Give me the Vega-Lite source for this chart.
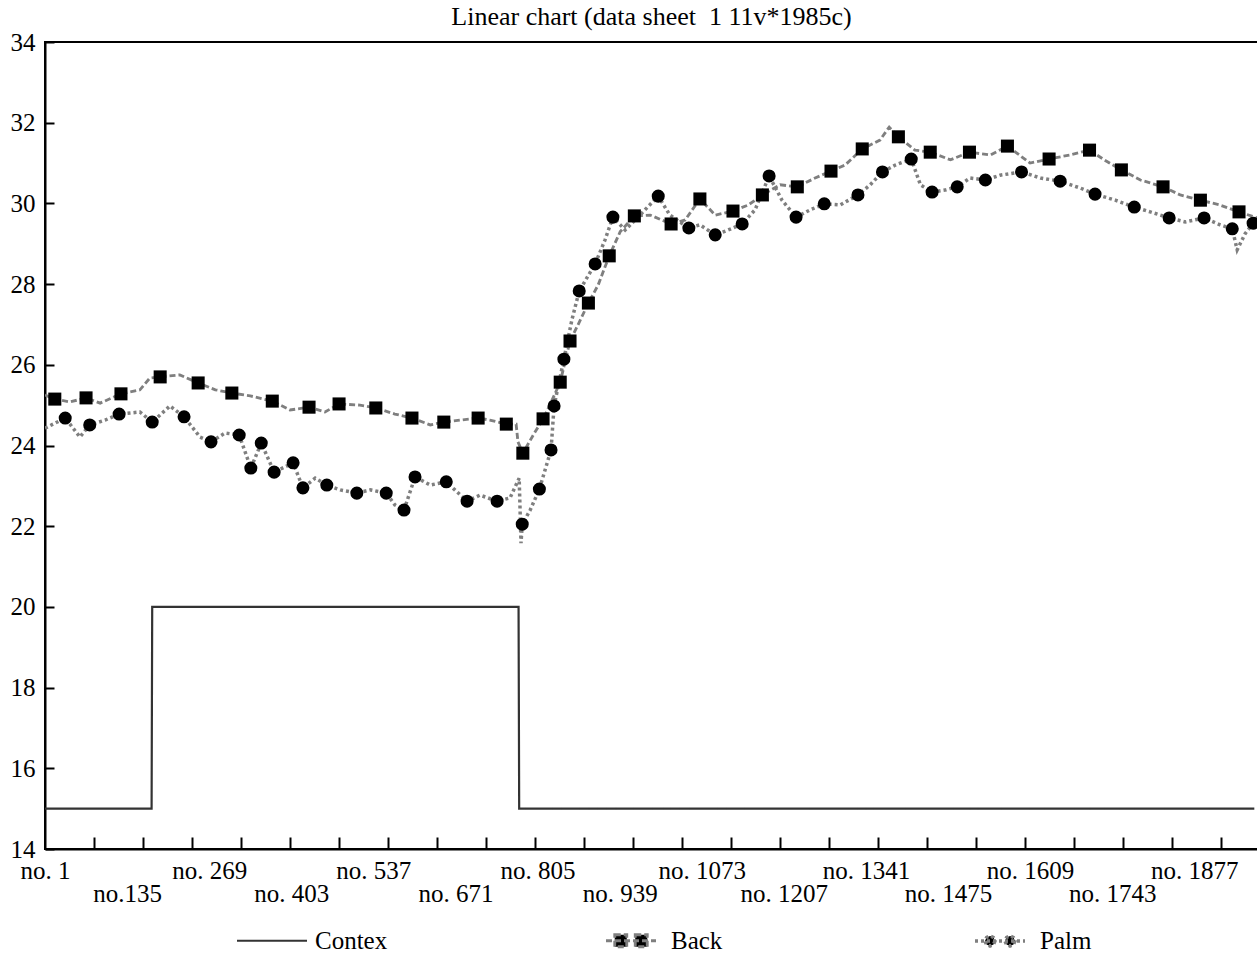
{
  "$schema": "https://vega.github.io/schema/vega-lite/v6.json",
  "width": 1213,
  "height": 807,
  "autosize": "none",
  "padding": {"left": 45, "top": 42, "right": 0, "bottom": 105},
  "background": "white",
  "config": {"view": {"stroke": "black", "strokeWidth": 2}, "font": "Liberation Serif"},
  "title": {"text": "Linear chart (data sheet\u00a0 1 11v*1985c)", "font": "Liberation Serif", "fontSize": 26, "fontWeight": "normal", "color": "black", "anchor": "middle", "frame": "group", "offset": 0},
  "data": {"values": [
    {"s":"Contex","i":1,"v":15,"m":0},{"s":"Contex","i":175,"v":15,"m":0},{"s":"Contex","i":176,"v":20,"m":0},{"s":"Contex","i":774,"v":20,"m":0},{"s":"Contex","i":775,"v":15,"m":0},{"s":"Contex","i":1975,"v":15,"m":0},
    {"s":"Back","i":1,"v":25.25,"m":0},{"s":"Back","i":17,"v":25.15,"m":1},{"s":"Back","i":42,"v":25.08,"m":0},{"s":"Back","i":68,"v":25.18,"m":1},{"s":"Back","i":91,"v":25.05,"m":0},{"s":"Back","i":125,"v":25.28,"m":1},{"s":"Back","i":156,"v":25.38,"m":0},{"s":"Back","i":172,"v":25.67,"m":0},{"s":"Back","i":189,"v":25.70,"m":1},{"s":"Back","i":221,"v":25.75,"m":0},{"s":"Back","i":251,"v":25.55,"m":1},{"s":"Back","i":279,"v":25.38,"m":0},{"s":"Back","i":306,"v":25.30,"m":1},{"s":"Back","i":336,"v":25.23,"m":0},{"s":"Back","i":372,"v":25.10,"m":1},{"s":"Back","i":401,"v":24.88,"m":0},{"s":"Back","i":432,"v":24.95,"m":1},{"s":"Back","i":458,"v":24.83,"m":0},{"s":"Back","i":481,"v":25.03,"m":1},{"s":"Back","i":515,"v":25.00,"m":0},{"s":"Back","i":541,"v":24.93,"m":1},{"s":"Back","i":572,"v":24.78,"m":0},{"s":"Back","i":600,"v":24.68,"m":1},{"s":"Back","i":630,"v":24.51,"m":0},{"s":"Back","i":652,"v":24.58,"m":1},{"s":"Back","i":679,"v":24.63,"m":0},{"s":"Back","i":708,"v":24.68,"m":1},{"s":"Back","i":727,"v":24.63,"m":0},{"s":"Back","i":754,"v":24.53,"m":1},{"s":"Back","i":770,"v":24.53,"m":0},{"s":"Back","i":773,"v":24.09,"m":0},{"s":"Back","i":781,"v":23.81,"m":1},{"s":"Back","i":798,"v":24.26,"m":0},{"s":"Back","i":814,"v":24.66,"m":1},{"s":"Back","i":825,"v":25.00,"m":0},{"s":"Back","i":842,"v":25.57,"m":1},{"s":"Back","i":858,"v":26.59,"m":1},{"s":"Back","i":871,"v":26.99,"m":0},{"s":"Back","i":888,"v":27.53,"m":1},{"s":"Back","i":904,"v":27.98,"m":0},{"s":"Back","i":922,"v":28.70,"m":1},{"s":"Back","i":940,"v":29.30,"m":0},{"s":"Back","i":963,"v":29.69,"m":1},{"s":"Back","i":989,"v":29.71,"m":0},{"s":"Back","i":1023,"v":29.49,"m":1},{"s":"Back","i":1046,"v":29.59,"m":0},{"s":"Back","i":1070,"v":30.11,"m":1},{"s":"Back","i":1095,"v":29.71,"m":0},{"s":"Back","i":1124,"v":29.81,"m":1},{"s":"Back","i":1149,"v":29.96,"m":0},{"s":"Back","i":1172,"v":30.21,"m":1},{"s":"Back","i":1201,"v":30.46,"m":0},{"s":"Back","i":1229,"v":30.41,"m":1},{"s":"Back","i":1258,"v":30.63,"m":0},{"s":"Back","i":1284,"v":30.80,"m":1},{"s":"Back","i":1307,"v":30.95,"m":0},{"s":"Back","i":1335,"v":31.35,"m":1},{"s":"Back","i":1364,"v":31.57,"m":0},{"s":"Back","i":1379,"v":31.89,"m":0},{"s":"Back","i":1394,"v":31.65,"m":1},{"s":"Back","i":1421,"v":31.32,"m":0},{"s":"Back","i":1446,"v":31.27,"m":1},{"s":"Back","i":1479,"v":31.08,"m":0},{"s":"Back","i":1510,"v":31.27,"m":1},{"s":"Back","i":1544,"v":31.20,"m":0},{"s":"Back","i":1572,"v":31.42,"m":1},{"s":"Back","i":1609,"v":31.00,"m":0},{"s":"Back","i":1640,"v":31.10,"m":1},{"s":"Back","i":1674,"v":31.20,"m":0},{"s":"Back","i":1706,"v":31.32,"m":1},{"s":"Back","i":1731,"v":31.07,"m":0},{"s":"Back","i":1758,"v":30.83,"m":1},{"s":"Back","i":1789,"v":30.58,"m":0},{"s":"Back","i":1826,"v":30.41,"m":1},{"s":"Back","i":1854,"v":30.21,"m":0},{"s":"Back","i":1887,"v":30.08,"m":1},{"s":"Back","i":1919,"v":29.96,"m":0},{"s":"Back","i":1950,"v":29.79,"m":1},{"s":"Back","i":1980,"v":29.64,"m":0},
    {"s":"Palm","i":1,"v":24.43,"m":0},{"s":"Palm","i":34,"v":24.68,"m":1},{"s":"Palm","i":58,"v":24.21,"m":0},{"s":"Palm","i":74,"v":24.51,"m":1},{"s":"Palm","i":99,"v":24.63,"m":0},{"s":"Palm","i":122,"v":24.78,"m":1},{"s":"Palm","i":156,"v":24.83,"m":0},{"s":"Palm","i":176,"v":24.58,"m":1},{"s":"Palm","i":205,"v":24.98,"m":0},{"s":"Palm","i":228,"v":24.71,"m":1},{"s":"Palm","i":254,"v":24.21,"m":0},{"s":"Palm","i":272,"v":24.09,"m":1},{"s":"Palm","i":295,"v":24.31,"m":0},{"s":"Palm","i":318,"v":24.26,"m":1},{"s":"Palm","i":337,"v":23.44,"m":1},{"s":"Palm","i":354,"v":24.06,"m":1},{"s":"Palm","i":375,"v":23.34,"m":1},{"s":"Palm","i":406,"v":23.57,"m":1},{"s":"Palm","i":422,"v":22.95,"m":1},{"s":"Palm","i":442,"v":23.19,"m":0},{"s":"Palm","i":461,"v":23.02,"m":1},{"s":"Palm","i":483,"v":22.90,"m":0},{"s":"Palm","i":510,"v":22.82,"m":1},{"s":"Palm","i":532,"v":22.90,"m":0},{"s":"Palm","i":558,"v":22.82,"m":1},{"s":"Palm","i":572,"v":22.53,"m":0},{"s":"Palm","i":587,"v":22.40,"m":1},{"s":"Palm","i":605,"v":23.22,"m":1},{"s":"Palm","i":630,"v":23.02,"m":0},{"s":"Palm","i":656,"v":23.10,"m":1},{"s":"Palm","i":670,"v":22.90,"m":0},{"s":"Palm","i":690,"v":22.62,"m":1},{"s":"Palm","i":711,"v":22.77,"m":0},{"s":"Palm","i":739,"v":22.62,"m":1},{"s":"Palm","i":760,"v":22.70,"m":0},{"s":"Palm","i":775,"v":23.19,"m":0},{"s":"Palm","i":778,"v":21.58,"m":0},{"s":"Palm","i":780,"v":22.05,"m":1},{"s":"Palm","i":793,"v":22.40,"m":0},{"s":"Palm","i":808,"v":22.92,"m":1},{"s":"Palm","i":827,"v":23.89,"m":1},{"s":"Palm","i":832,"v":24.98,"m":1},{"s":"Palm","i":848,"v":26.14,"m":1},{"s":"Palm","i":861,"v":27.11,"m":0},{"s":"Palm","i":873,"v":27.83,"m":1},{"s":"Palm","i":899,"v":28.50,"m":1},{"s":"Palm","i":915,"v":29.09,"m":0},{"s":"Palm","i":928,"v":29.66,"m":1},{"s":"Palm","i":948,"v":29.34,"m":0},{"s":"Palm","i":972,"v":29.71,"m":0},{"s":"Palm","i":1002,"v":30.18,"m":1},{"s":"Palm","i":1021,"v":29.71,"m":0},{"s":"Palm","i":1052,"v":29.39,"m":1},{"s":"Palm","i":1070,"v":29.47,"m":0},{"s":"Palm","i":1095,"v":29.22,"m":1},{"s":"Palm","i":1116,"v":29.34,"m":0},{"s":"Palm","i":1139,"v":29.49,"m":1},{"s":"Palm","i":1160,"v":29.84,"m":0},{"s":"Palm","i":1183,"v":30.68,"m":1},{"s":"Palm","i":1204,"v":30.08,"m":0},{"s":"Palm","i":1227,"v":29.66,"m":1},{"s":"Palm","i":1250,"v":29.84,"m":0},{"s":"Palm","i":1273,"v":29.99,"m":1},{"s":"Palm","i":1299,"v":29.96,"m":0},{"s":"Palm","i":1328,"v":30.21,"m":1},{"s":"Palm","i":1348,"v":30.46,"m":0},{"s":"Palm","i":1368,"v":30.78,"m":1},{"s":"Palm","i":1389,"v":30.95,"m":0},{"s":"Palm","i":1415,"v":31.10,"m":1},{"s":"Palm","i":1430,"v":30.46,"m":0},{"s":"Palm","i":1449,"v":30.28,"m":1},{"s":"Palm","i":1470,"v":30.33,"m":0},{"s":"Palm","i":1490,"v":30.41,"m":1},{"s":"Palm","i":1511,"v":30.63,"m":0},{"s":"Palm","i":1536,"v":30.58,"m":1},{"s":"Palm","i":1560,"v":30.70,"m":0},{"s":"Palm","i":1595,"v":30.78,"m":1},{"s":"Palm","i":1626,"v":30.63,"m":0},{"s":"Palm","i":1658,"v":30.55,"m":1},{"s":"Palm","i":1691,"v":30.38,"m":0},{"s":"Palm","i":1715,"v":30.23,"m":1},{"s":"Palm","i":1748,"v":30.08,"m":0},{"s":"Palm","i":1779,"v":29.91,"m":1},{"s":"Palm","i":1805,"v":29.79,"m":0},{"s":"Palm","i":1836,"v":29.64,"m":1},{"s":"Palm","i":1862,"v":29.54,"m":0},{"s":"Palm","i":1893,"v":29.64,"m":1},{"s":"Palm","i":1919,"v":29.47,"m":0},{"s":"Palm","i":1939,"v":29.37,"m":1},{"s":"Palm","i":1947,"v":28.85,"m":0},{"s":"Palm","i":1960,"v":29.25,"m":0},{"s":"Palm","i":1973,"v":29.51,"m":1},{"s":"Palm","i":1980,"v":29.47,"m":0}
  ]},
  "resolve": {"axis": {"x": "independent"}},
  "layer": [
    {
      "mark": {"type": "line", "clip": true},
      "encoding": {
        "x": {"field": "i", "type": "quantitative",
          "scale": {"domain": [1, 1981], "nice": false, "zero": false},
          "axis": {
            "orient": "bottom",
            "values": [1,135,269,403,537,671,805,939,1073,1207,1341,1475,1609,1743,1877],
            "title": null, "grid": false, "domain": false, "ticks": false, "tickSize": 0,
            "labelExpr": "datum.value === 135 ? 'no.135' : 'no. ' + datum.value",
            "labelPadding": {"condition": {"test": "((datum.value - 1) / 134) % 2 === 1", "value": 32}, "value": 9},
            "labelFont": "Liberation Serif", "labelFontSize": 25, "labelColor": "black",
            "labelOverlap": false, "labelFlush": false, "labelBound": false
          }
        },
        "y": {"field": "v", "type": "quantitative",
          "scale": {"domain": [14, 34], "nice": false, "zero": false},
          "axis": {
            "values": [14,16,18,20,22,24,26,28,30,32,34],
            "title": null, "grid": false,
            "domainColor": "black", "domainWidth": 2,
            "tickSize": -9, "tickColor": "black", "tickWidth": 2,
            "labelFont": "Liberation Serif", "labelFontSize": 25, "labelColor": "black",
            "labelPadding": 19, "labelOverlap": false, "labelFlush": false
          }
        },
        "color": {"field": "s", "type": "nominal",
          "scale": {"domain": ["Contex", "Back", "Palm"], "range": ["#333333", "#7f7f7f", "#7f7f7f"]},
          "legend": {
            "title": null, "orient": "none", "legendX": 190, "legendY": 872,
            "direction": "horizontal", "columns": 3, "gridAlign": "all", "columnPadding": 211, "padding": 0,
            "symbolSize": 2500, "symbolStrokeWidth": 3,
            "labelFont": "Liberation Serif", "labelFontSize": 25, "labelColor": "black", "labelOffset": 13,
            "encode": {
              "labels": {"update": {"dx": {"signal": "datum.value === 'Contex' ? 13 : 0"}}},
              "symbols": {"update": {
                "shape": {"signal": "datum.value === 'Contex' ? 'M-1,0H1.8' : datum.value === 'Back' ? 'M-1,0H1M-0.65,-0.24H-0.17V0.24H-0.65ZM0.17,-0.24H0.65V0.24H0.17Z' : 'M-1,0H1M-0.2,0L-0.26,0.14L-0.4,0.2L-0.54,0.14L-0.6,0L-0.54,-0.14L-0.4,-0.2L-0.26,-0.14ZM0.6,0L0.54,0.14L0.4,0.2L0.26,0.14L0.2,0L0.26,-0.14L0.4,-0.2L0.54,-0.14Z'"},
                "fill": {"signal": "datum.value === 'Contex' ? 'transparent' : 'black'"},
                "fillOpacity": {"value": 1},
                "stroke": {"signal": "datum.value === 'Contex' ? '#333333' : '#7f7f7f'"},
                "strokeWidth": {"value": 3},
                "strokeDash": {"signal": "datum.value === 'Palm' ? [3, 3] : [1, 0]"},
                "opacity": {"value": 1}
              }}
            }
          }
        },
        "strokeDash": {"field": "s", "type": "nominal",
          "scale": {"domain": ["Contex", "Back", "Palm"], "range": [[1, 0], [6, 3], [3, 3]]}, "legend": null},
        "strokeWidth": {"field": "s", "type": "nominal",
          "scale": {"domain": ["Contex", "Back", "Palm"], "range": [2.2, 3.5, 3.5]}, "legend": null}
      }
    },
    {
      "transform": [{"filter": "datum.m === 1"}],
      "mark": {"type": "point", "filled": true, "opacity": 1, "color": "black", "size": 170},
      "encoding": {
        "x": {"field": "i", "type": "quantitative",
          "axis": {
            "orient": "bottom",
            "values": [81,161,241,321,401,481,561,641,721,801,881,961,1041,1121,1201,1281,1361,1441,1521,1601,1681,1761,1841,1921],
            "title": null, "grid": false, "labels": false,
            "domain": true, "domainColor": "black", "domainWidth": 2,
            "ticks": true, "tickSize": -12, "tickColor": "black", "tickWidth": 2
          }
        },
        "y": {"field": "v", "type": "quantitative"},
        "shape": {"field": "s", "type": "nominal", "scale": {"domain": ["Back", "Palm"], "range": ["square", "circle"]}, "legend": null}
      }
    }
  ]
}
